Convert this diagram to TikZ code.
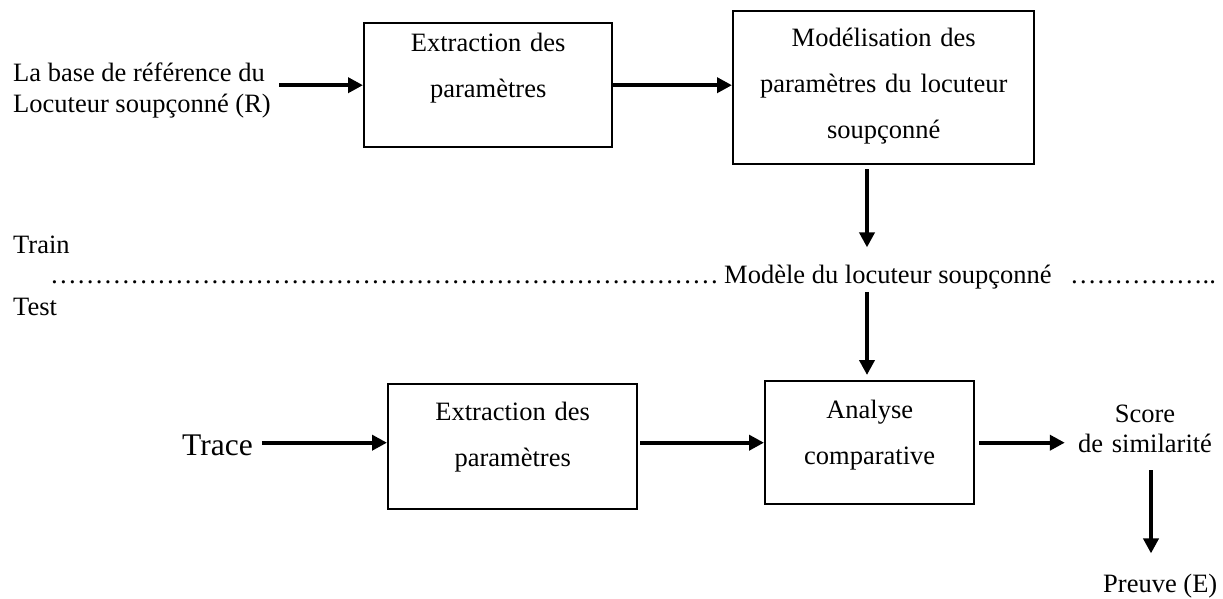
\documentclass[tikz,border=0pt]{standalone}
\usepackage{fontspec}
\setmainfont{Liberation Serif}
\usetikzlibrary{arrows.meta}
\newcommand{\ellrep}[1]{\foreach \k in {1,...,#1}{…}}
\begin{document}
\begin{tikzpicture}[x=1pt,y=-1pt,
  every node/.style={inner sep=0pt, font=\fontsize{26.5}{46}\selectfont},
  blk/.style={draw, line width=2.4pt, align=center, anchor=north west},
  arr/.style={line width=4pt, -{Triangle[length=15pt,width=15pt]}},
]
\useasboundingbox (0,0) rectangle (1223,599);

% top row
\node[anchor=base west, text width=264pt, align=flush left, font=\fontsize{26.5}{31}\selectfont] (src) at (13,82) {La base de référence du\\Locuteur soupçonné (R)};
\node[blk, text width=248pt, text height=28pt, text depth=96pt] (b1) at (363,22) {Extraction des\\paramètres};
\node[blk, text width=301pt, text height=35pt, text depth=118pt] (b2) at (732,10) {Modélisation des\\paramètres du locuteur\\soupçonné};

% separator
\node[anchor=base west] (train) at (13,253) {Train};
\node[anchor=base west] (test) at (13,315) {Test};
\node[anchor=base west, font=\fontsize{26.75}{30}\selectfont] (dotsL) at (50,283) {\ellrep{25}};
\node[anchor=base west] (model) at (724,283) {Modèle du locuteur soupçonné};
\node[anchor=base west] (dotsR) at (1070,283) {\ellrep{5}..};

% bottom row
\node[anchor=base west, font=\fontsize{31.5}{36}\selectfont] (trace) at (182,455) {Trace};
\node[blk, text width=249pt, text height=36pt, text depth=89pt] (b3) at (387,383) {Extraction des\\paramètres};
\node[blk, text width=209pt, text height=37pt, text depth=86pt] (b4) at (764,380) {Analyse\\comparative};
\node[anchor=base, text width=160pt, align=center, font=\fontsize{26.5}{30}\selectfont] (score) at (1145,422) {Score\\de similarité};
\node[anchor=base west] (preuve) at (1103,592) {Preuve (E)};

\coordinate (ax) at (867,0);
\coordinate (px) at (1151,0);

% connectors
\draw[arr, shorten <=2pt] (src.east |- b1.west) -- (b1.west);
\draw[arr] (b1.east) -- (b1.east -| b2.west);
\draw[arr, shorten <=4pt, shorten >=17pt] (b2.south -| ax) -- (model.north -| ax);
\draw[arr, shorten <=3pt, shorten >=5pt] (model.south -| ax) -- (b4.north -| ax);
\draw[arr, shorten <=9pt] (trace.east |- b4.west) -- (b3.west |- b4.west);
\draw[arr, shorten <=2pt] (b3.east |- b4.west) -- (b4.west);
\draw[arr, shorten <=4pt] (b4.east) -- (score.west |- b4.east);
\draw[arr, shorten <=18pt, shorten >=20pt] (score.south -| px) -- (preuve.north -| px);
\end{tikzpicture}
\end{document}
